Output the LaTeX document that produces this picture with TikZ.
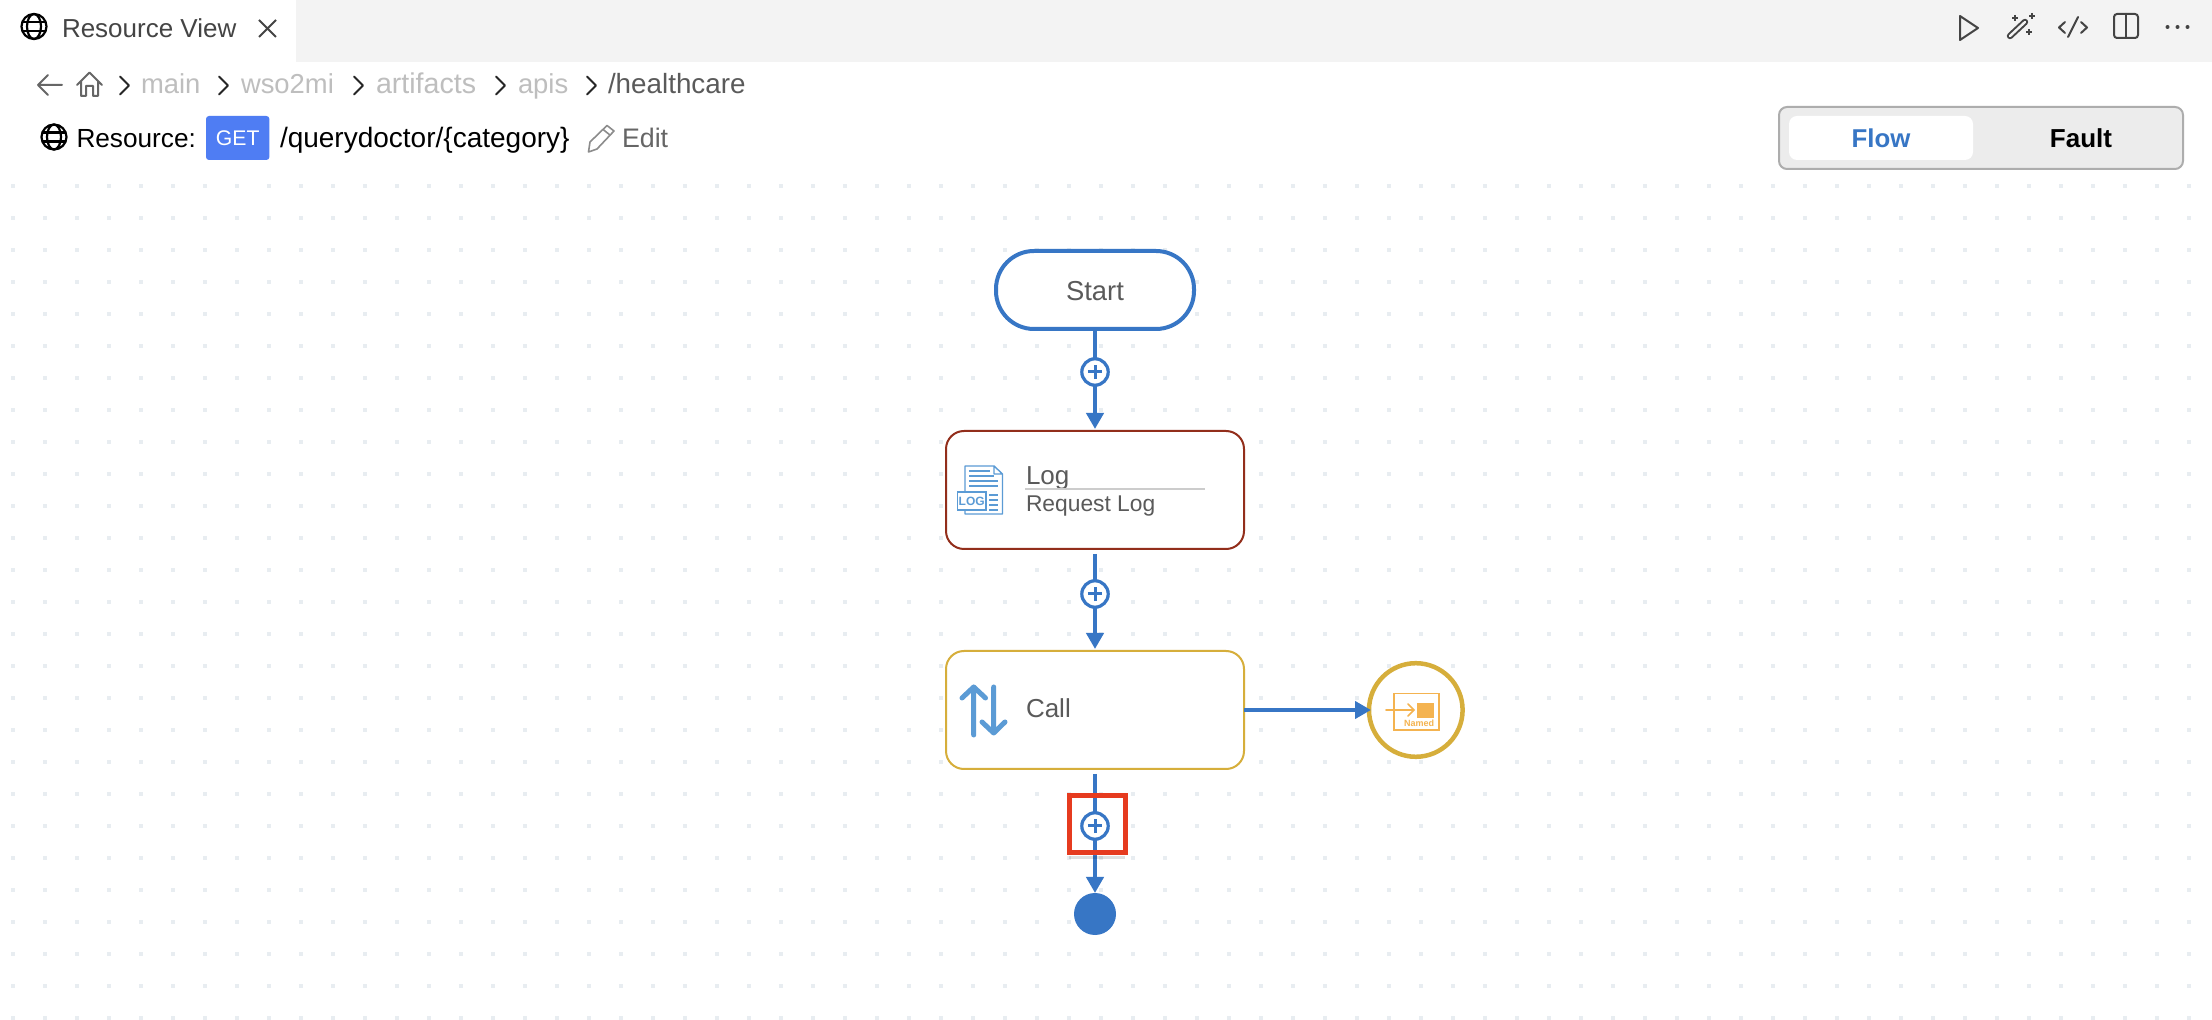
\documentclass[tikz,border=0pt]{standalone}
\usepackage{fontspec}
\setmainfont{Liberation Sans}
\usetikzlibrary{arrows.meta}
\definecolor{flowblue}{HTML}{3776C5}
\definecolor{barbg}{HTML}{F3F3F3}
\definecolor{griddot}{HTML}{E8EDF1}
\definecolor{nodetext}{HTML}{5A5A5A}
\definecolor{logred}{HTML}{922E1B}
\definecolor{callgold}{HTML}{D6AE3B}
\definecolor{iconblue}{HTML}{5B9BD5}
\definecolor{namedorange}{HTML}{F4B350}
\definecolor{crumbgrey}{HTML}{BEBEBE}
\definecolor{icondark}{HTML}{444444}
\definecolor{getblue}{HTML}{4F7DF3}
\definecolor{redmark}{HTML}{E63B1F}
\newcommand{\pxfont}[1]{\fontsize{#1}{#1}\selectfont}
\tikzset{
  x=0.5pt,y=-0.5pt,
  txt/.style={inner sep=0pt,outer sep=0pt,anchor=base west},
  mid/.style={inner sep=0pt,outer sep=0pt,anchor=base},
  tabtext/.style={txt,font=\pxfont{13},text=icondark},
  crumb/.style={txt,font=\pxfont{13.7},text=crumbgrey},
  rowtext/.style={txt,font=\pxfont{13.1},text=black},
  nodelabel/.style={txt,font=\pxfont{13},text=nodetext},
  chev/.style={draw=black!85,line width=1pt,line cap=round,line join=round},
  iconline/.style={draw=icondark,line width=1pt,line cap=round,line join=round},
  conn/.style={draw=flowblue,line width=2.25pt},
  connarrow/.style={conn,-{Triangle[length=8pt,width=8.5pt]}},
  plusbtn/.style={circle,draw=flowblue,fill=white,line width=1.6pt,minimum size=13.2pt,inner sep=0pt,outer sep=0pt,
    path picture={
      \draw[flowblue,line width=1.5pt]
        ([xshift=-3.6pt]path picture bounding box.center) -- ([xshift=3.6pt]path picture bounding box.center)
        ([yshift=-3.6pt]path picture bounding box.center) -- ([yshift=3.6pt]path picture bounding box.center);}},
  stepbox/.style={rectangle,rounded corners=9pt,fill=white,line width=1pt,minimum width=149pt,minimum height=59pt,inner sep=0pt,outer sep=0pt},
  globe/.pic={
    \draw[black,line width=1.1pt] (0,0) circle[radius=12.5];
    \draw[black,line width=1.1pt] (0,0) ellipse[x radius=7,y radius=12.5];
    \draw[black,line width=1.2pt] (-11.5,-4.5) -- (11.5,-4.5) (-11.5,4.5) -- (11.5,4.5);
  }
}
\begin{document}
\begin{tikzpicture}
\useasboundingbox (0,0) rectangle (2212,1020);
\fill[white] (0,0) rectangle (2212,1020);
% canvas dots
\foreach \i in {0,...,68}{\foreach \j in {0,...,26}{
  \fill[griddot] ({11+32*\i},{184+32*\j}) rectangle ++(4,4);}}
% tab bar
\fill[barbg] (296,0) rectangle (2212,62);
\pic at (34,26.5) {globe};
\node[tabtext] (tabtitle) at (62,38) {Resource View};
\draw[icondark,line width=1pt] (259,20) -- (276,37) (276,20) -- (259,37);
% top-right icons
\draw[iconline] (1960,16) -- (1978,28) -- (1960,40) -- cycle;
\draw[icondark,line width=3.2pt,line cap=round] (2010,36) -- (2025,22);
\draw[barbg,line width=1.2pt,line cap=round] (2010,36) -- (2025,22);
\draw[icondark,line width=0.9pt] (2012,18) -- (2018,18) (2015,15) -- (2015,21)
  (2029,16) -- (2035,16) (2032,13) -- (2032,19)
  (2026,32) -- (2032,32) (2029,29) -- (2029,35);
\draw[iconline] (2065,22) -- (2059,27.5) -- (2065,33) (2078,17) -- (2068,37) (2081,22) -- (2087,27.5) -- (2081,33);
\draw[iconline,rounded corners=1.5pt] (2114,14) rectangle (2138,38);
\draw[iconline] (2126,14) -- (2126,38);
\fill[icondark] (2167.5,27) circle[radius=2] (2177.5,27) circle[radius=2] (2187.5,27) circle[radius=2];
% breadcrumb
\draw[draw=black!60,line width=1pt,line cap=round,line join=round] (62,85) -- (38,85) (48,75) -- (38,85) -- (48,95);
\draw[draw=black!60,line width=1pt,line cap=round,line join=round]
  (77,85) -- (89.5,72.5) -- (102,85)
  (81,81) -- (81,96) -- (86,96) -- (86,86) -- (93,86) -- (93,96) -- (98,96) -- (98,81);
\foreach \c in {124,223,358,500,591}{\draw[chev] (\c-4,76.5) -- (\c+5,85.5) -- (\c-4,94.5);}
\node[crumb] (crmain) at (141,94) {main};
\node[crumb] (crwso) at (241,94) {wso2mi};
\node[crumb,font=\pxfont{14.3}] (crart) at (376,94) {artifacts};
\node[crumb] (crapis) at (518,94) {apis};
\node[crumb,text=nodetext,font=\pxfont{13.9}] (crhealth) at (608,94) {/healthcare};
% resource row
\pic at (54,137) {globe};
\node[rowtext] (reslabel) at (76.5,148) {Resource:};
\node[rectangle,rounded corners=1.5pt,fill=getblue,minimum width=31.7pt,minimum height=22pt,inner sep=0pt,outer sep=0pt] (getbox) at (237.7,138) {};
\node[mid,font=\pxfont{10.6},text=white] (gettext) at (237.7,146) {GET};
\node[rowtext,font=\pxfont{14}] (respath) at (280,148) {/querydoctor/\{category\}};
\draw[draw=black!45,line width=0.8pt,line join=round] (588.5,152) -- (590,142) -- (607,125.5) -- (614,131) -- (597,149) -- cycle (603,129.5) -- (610,135);
\node[rowtext,text=black!60,font=\pxfont{13.4}] (editlabel) at (622,148) {Edit};
% flow/fault toggle
\node[rectangle,rounded corners=4pt,draw=black!32,fill=black!7.5,line width=1pt,minimum width=202pt,minimum height=31pt,inner sep=0pt,outer sep=0pt] (toggle) at (1981,138) {};
\node[rectangle,rounded corners=4pt,fill=white,minimum width=92pt,minimum height=22pt,inner sep=0pt,outer sep=0pt] (flowtab) at (1881,138) {};
\node[mid,font=\bfseries\pxfont{12.9},text=flowblue] (flowtext) at (1881,147.5) {Flow};
\node[mid,font=\bfseries\pxfont{13},text=black] (faulttext) at (2081,147.5) {Fault};
% flow nodes
\node[rectangle,rounded corners=19pt,draw=flowblue,fill=white,line width=2pt,minimum width=99pt,minimum height=39pt,inner sep=0pt,outer sep=0pt] (start) at (1095,290) {};
\node[mid,font=\pxfont{13.7},text=nodetext] (starttext) at (1095,301) {Start};
\node[stepbox,draw=logred] (log) at (1095,490) {};
\node[stepbox,draw=callgold] (call) at (1095,710) {};
\node[plusbtn] (plusa) at (1095,372) {};
\node[plusbtn] (plusb) at (1095,594) {};
\node[plusbtn] (plusc) at (1095,826) {};
\node[circle,draw=callgold,fill=white,line width=2.25pt,minimum size=46.8pt,inner sep=0pt,outer sep=0pt] (named) at (1415.8,710) {};
\node[circle,fill=flowblue,minimum size=21pt,inner sep=0pt,outer sep=0pt] (finish) at (1095,914) {};
% connectors
\draw[conn] (start.south) -- (plusa.north);
\draw[connarrow,shorten >=1pt] (plusa.south) -- (log.north);
\draw[conn,shorten <=2.5pt] (log.south) -- (plusb.north);
\draw[connarrow,shorten >=1pt] (plusb.south) -- (call.north);
\draw[conn,shorten <=2.5pt] (call.south) -- (plusc.north);
\draw[connarrow] (plusc.south) -- (finish.north);
\draw[connarrow,shorten >=-1pt] (call.east) -- (named.west);
% log node content
\draw[iconblue,line width=0.7pt,line join=round] (965,466) -- (994,466) -- (1002.5,474) -- (1002.5,514) -- (965,514) -- cycle (994,466) -- (994,474) -- (1002.5,474);
\draw[iconblue,line width=0.8pt] (969,471) -- (990,471) (969,476) -- (994,476) (969,481) -- (998,481) (969,486) -- (998,486)
  (989,495) -- (998,495) (989,500) -- (998,500) (989,505) -- (998,505) (989,510) -- (998,510);
\node[rectangle,draw=iconblue,fill=white,line width=0.8pt,minimum width=14.4pt,minimum height=9pt,inner sep=0pt,outer sep=0pt] (logbadge) at (971.7,501.3) {};
\node[mid,font=\bfseries\pxfont{6},text=iconblue] (logbadgetext) at (971.7,505.5) {LOG};
\node[nodelabel] (logtitle) at (1026,485) {Log};
\draw[black!20,line width=0.8pt] (1025,489) -- (1205,489);
\node[nodelabel,font=\pxfont{11.4}] (logsub) at (1026,512) {Request Log};
% call node content
\draw[iconblue,line width=2.5pt,line cap=round,line join=round]
  (973.7,735) -- (973.7,687) (962,698) -- (973.7,687) (985.5,698) -- (973.7,687)
  (993.7,687) -- (993.7,733) (982,722) -- (993.7,733) (1005,722) -- (993.7,733);
\node[nodelabel] (calltext) at (1026,718) {Call};
% named endpoint icon
\draw[namedorange,line width=0.7pt] (1394,693.5) rectangle (1439,730);
\draw[namedorange,line width=0.8pt,line cap=round] (1386,710) -- (1414,710) (1408,704) -- (1414,710) -- (1408,716);
\fill[namedorange] (1417,703) rectangle (1434,718);
\node[mid,font=\bfseries\pxfont{4.5},text=namedorange] (namedtext) at (1419,727) {Named};
% highlight frame
\draw[black,opacity=.12,line width=1.5pt] (1069,858) -- (1125,858);
\node[rectangle,draw=redmark,line width=2.5pt,minimum width=28pt,minimum height=28.5pt,inner sep=0pt,outer sep=0pt] (mark) at (1097,824) {};
\end{tikzpicture}
\end{document}
